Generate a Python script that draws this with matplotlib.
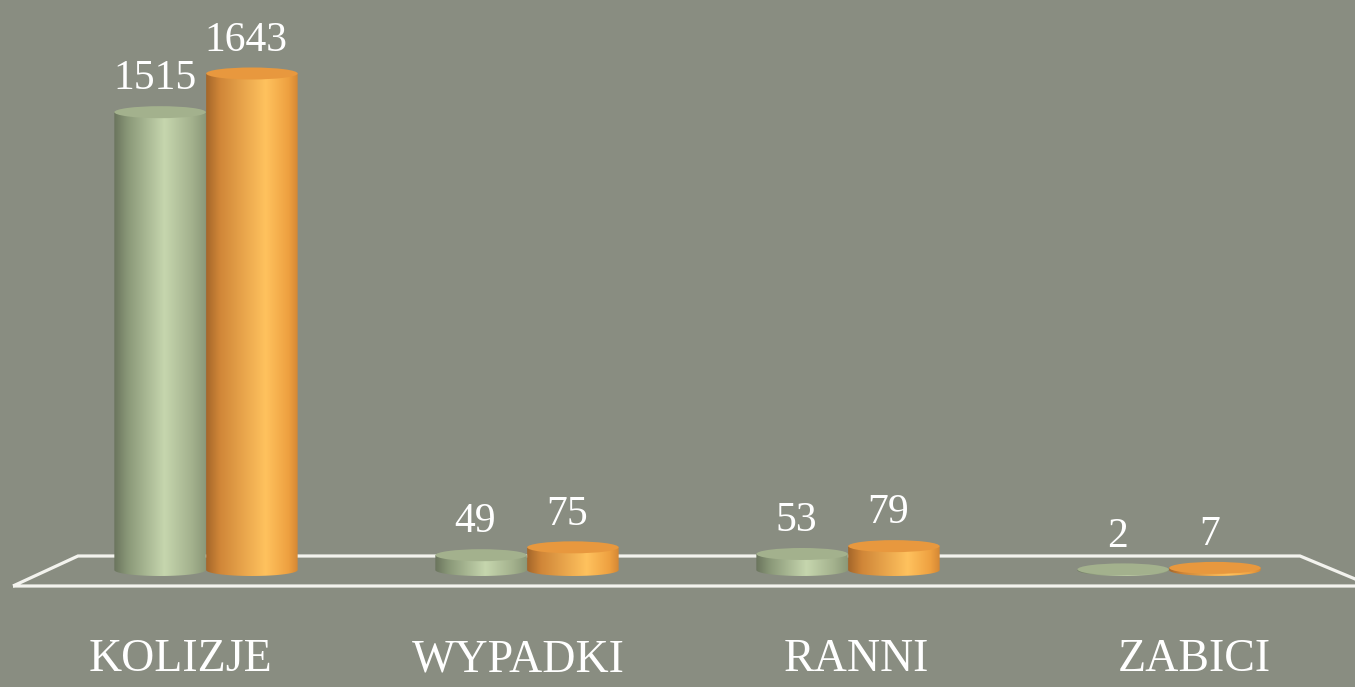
import numpy as np
import matplotlib
matplotlib.use("Agg")
import matplotlib.pyplot as plt
from matplotlib.patches import Ellipse, PathPatch, Polygon
from matplotlib.path import Path
from matplotlib.colors import LinearSegmentedColormap

# ---- data ----
categories = ["KOLIZJE", "WYPADKI", "RANNI", "ZABICI"]
series_a = [1515, 49, 53, 2]     # green
series_b = [1643, 75, 79, 7]     # orange

# ---- layout / style ----
W, H, DPI = 1355, 687, 100
BG = "#898d81"
px_per_unit = 0.3022            # vertical pixels per value unit
base_px = 117                   # value 0 at this many px from bottom
cat_px0, cat_dx = 206, 321      # centre of first group, spacing (px)
bar_w = 0.285
off = 0.143
ell_px = 12                     # ellipse height in pixels
ell_h = ell_px / px_per_unit

green_cmap = LinearSegmentedColormap.from_list(
    "g", [(0, "#6a745d"), (0.15, "#8a9878"), (0.55, "#c6d6ae"),
          (0.85, "#a3b18d"), (1, "#8b9878")])
orange_cmap = LinearSegmentedColormap.from_list(
    "o", [(0, "#a4662a"), (0.15, "#d08638"), (0.65, "#ffc25e"),
          (0.9, "#eea040"), (1, "#d48734")])
top_green = "#a3b18d"
top_orange = "#e8983e"

plt.rcParams["font.family"] = ["Liberation Serif", "DejaVu Serif"]

fig = plt.figure(figsize=(W / DPI, H / DPI), dpi=DPI, facecolor=BG)
ax = fig.add_axes([0, 0, 1, 1])
ax.set_facecolor(BG)
ax.set_axis_off()
ax.set_xlim(-cat_px0 / cat_dx, (W - cat_px0) / cat_dx)
ax.set_ylim(-base_px / px_per_unit, (H - base_px) / px_per_unit)

# floor parallelogram (decoration, figure pixel coords), behind the cylinders
floor = [(13, 586), (78, 556), (1300, 556), (1372, 586)]
floor_fig = [(x / W, 1 - y / H) for x, y in floor]
ax.add_patch(Polygon(floor_fig, closed=True, fill=False,
                     edgecolor="#f3f3ee", linewidth=2.3,
                     transform=fig.transFigure, zorder=1, clip_on=False))

x = np.arange(len(categories))
grad = np.linspace(0, 1, 256).reshape(1, -1)


def cylinder(bar, cmap, topc, z):
    x0 = bar.get_x()
    w = bar.get_width()
    h = bar.get_height()
    x1 = x0 + w
    xc = x0 + w / 2
    t = np.linspace(np.pi, 2 * np.pi, 60)
    arc = np.column_stack([xc + w / 2 * np.cos(t), ell_h / 2 * np.sin(t)])
    verts = np.vstack([[(x0, h)], arc, [(x1, h)], [(x0, h)]])
    codes = [Path.MOVETO] + [Path.LINETO] * (len(verts) - 2) + [Path.CLOSEPOLY]
    clip = PathPatch(Path(verts, codes), transform=ax.transData,
                     facecolor="none", edgecolor="none")
    ax.add_patch(clip)
    im = ax.imshow(grad, cmap=cmap, aspect="auto",
                   extent=[x0, x1, -ell_h / 2, h], zorder=z,
                   interpolation="bilinear")
    im.set_clip_path(clip)
    ax.add_patch(Ellipse((xc, h), w, ell_h, facecolor=topc,
                         edgecolor="none", zorder=z + 0.1))


bars_a = ax.bar(x - off, series_a, bar_w, color="none", edgecolor="none")
bars_b = ax.bar(x + off, series_b, bar_w, color="none", edgecolor="none")
for i in range(len(categories)):
    cylinder(bars_a[i], green_cmap, top_green, 2 + i)
    cylinder(bars_b[i], orange_cmap, top_orange, 2.5 + i)

# value labels
lab_off_pt = (ell_px / 2 + 27) * 72 / DPI
for bars, vals in ((bars_a, series_a), (bars_b, series_b)):
    for b, v in zip(bars, vals):
        ax.annotate(str(v), (b.get_x() + b.get_width() / 2, v),
                    xytext=(-4, lab_off_pt), textcoords="offset points",
                    ha="center", va="center", color="white",
                    fontsize=30, zorder=20)

# category labels
for i, c in enumerate(categories):
    ax.annotate(c, (i + (i - 1.5) * 0.052, 0), xytext=(0, -(660 - 570) * 72 / DPI),
                textcoords="offset points", ha="center", va="center",
                color="white", fontsize=33, zorder=20)

fig.savefig("out.png", dpi=DPI, facecolor=BG)
